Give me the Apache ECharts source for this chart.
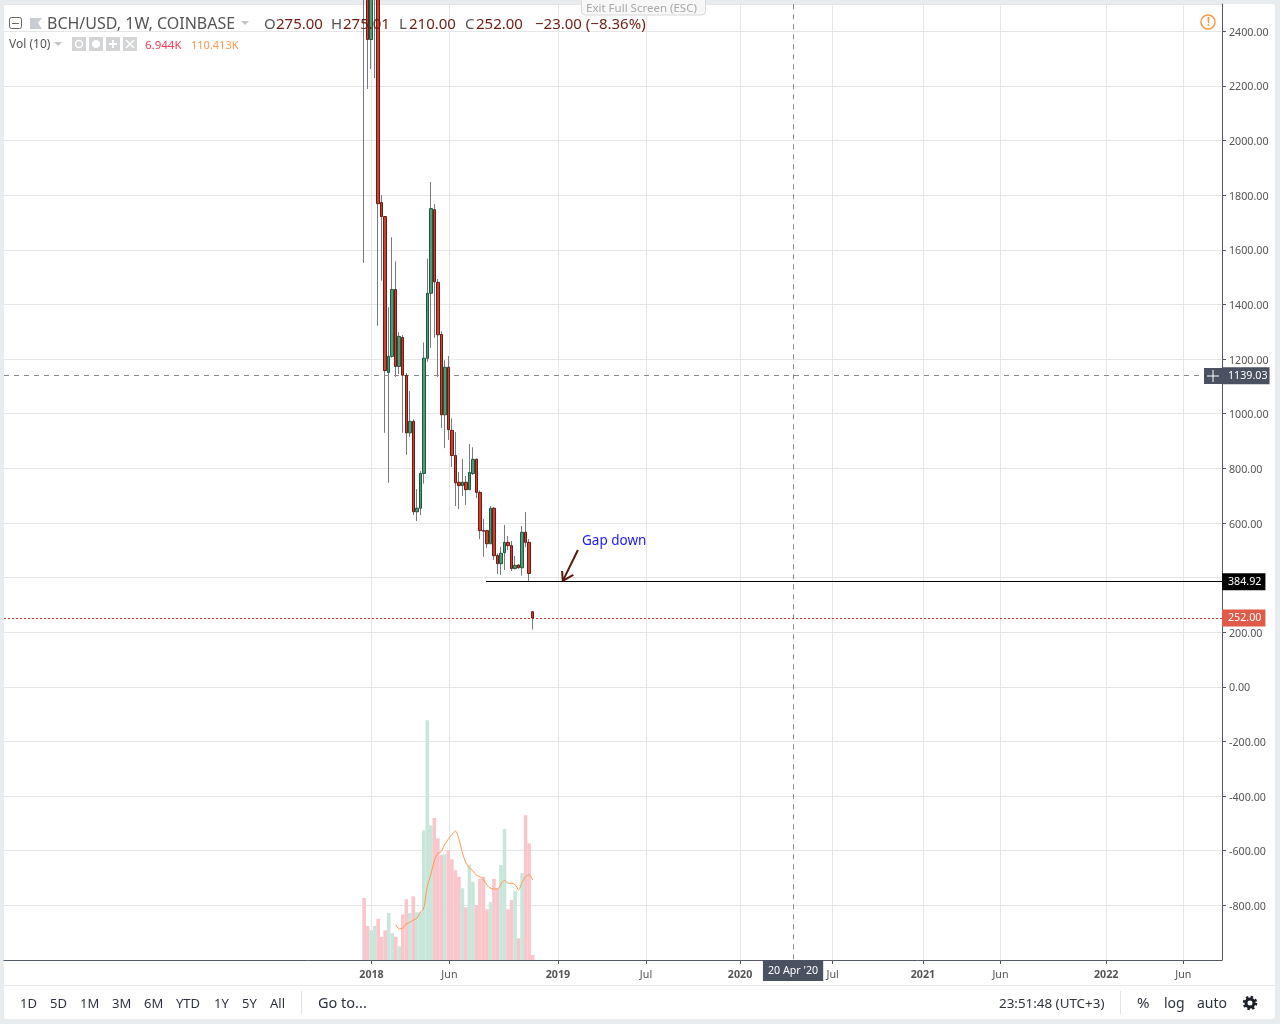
<!DOCTYPE html>
<html>
<head>
<meta charset="utf-8">
<title>BCH/USD</title>
<script src="https://cdn.jsdelivr.net/npm/echarts@6/dist/echarts.min.js"></script>
<style>
html, body { margin: 0; padding: 0; background: #e9ecef; }
#chart { width: 1280px; height: 1024px; }
</style>
</head>
<body>
<div id="chart"></div>
<script>
"use strict";

// weekly candles, first drawn bar is index 0: open, close, low, high
const candles = [
	[2760, 2640, 1552, 2900], [2640, 2370, 2189, 2700], [2370, 2550, 2262, 2620], [2550, 2700, 2229, 2800],
	[2700, 1769, 1322, 2760], [1773, 1722, 1487, 1800], [1722, 1158, 930, 1722], [1151, 1210, 747, 1390],
	[1210, 1455, 1205, 1646], [1455, 1173, 1135, 1558], [1173, 1283, 1145, 1298], [1279, 1141, 930, 1288],
	[1140, 930, 849, 1149], [930, 972, 915, 1083], [972, 641, 629, 979], [641, 654, 607, 724],
	[654, 781, 629, 790], [781, 1203, 744, 1261], [1203, 1441, 1190, 1568], [1441, 1751, 1241, 1848],
	[1747, 1483, 1278, 1767], [1481, 1289, 1135, 1493], [1290, 996, 948, 1302], [996, 1170, 874, 1196],
	[1170, 942, 904, 1211], [939, 847, 805, 983], [847, 747, 662, 933], [749, 737, 651, 787],
	[737, 749, 699, 834], [749, 722, 666, 772], [722, 785, 720, 889], [781, 833, 776, 877],
	[833, 712, 691, 836], [712, 572, 541, 719], [572, 570, 476, 615], [572, 524, 509, 574],
	[524, 654, 522, 662], [654, 480, 465, 658], [481, 451, 413, 489], [451, 489, 410, 512],
	[491, 529, 428, 593], [529, 517, 501, 552], [517, 433, 424, 534], [433, 445, 430, 479],
	[446, 436, 433, 450], [436, 566, 407, 589], [566, 529, 511, 640], [529, 415, 385, 541],
	[275, 252, 210, 275.01]
];
// volume in thousands
const volumes = [
	85.6, 47, 41, 47, 57, 32, 41, 65, 37, 32, 19, 63, 84, 65, 88, 66, 66, 179, 331, 186,
	196, 168, 145, 146, 152, 139, 124, 115, 99, 73, 131, 108, 76, 112, 115, 70, 80, 112, 99, 131,
	181, 70, 83, 95, 30, 120, 200, 161, 6.944
];
// 10 week average, nothing for the first nine bars
const volumeMa = [
	null, null, null, null, null, null, null, null, null,
	49, 43, 44, 50, 52, 55, 57.5, 66, 72, 102, 118, 137, 147, 150, 160, 167, 173, 178, 167, 148,
	134, 127, 123, 117, 115, 111, 103.5, 99, 98, 98, 105, 110, 106, 106, 104, 97, 107, 115, 118, 110.413
];
const xTickBars = [2.1, 24.3, 55.2, 80.3, 107.1, 133.5, 159.2, 181.3, 211.4, 233.4];
const xTickLabels = ["2018", "Jun", "2019", "Jul", "2020", "Jul", "2021", "Jun", "2022", "Jun"];

const crossBar = 122.2;
const crossPrice = 1139.03;
const crossDate = "20 Apr '20";
const lastPrice = 252;
const gapPrice = 384.92;
const gapStartBar = 34.7;

const FONT = '"Noto Sans", sans-serif';
const RED = "#d0402f", RED_EDGE = "#6b1a14", GREEN = "#4f9a78", GREEN_EDGE = "#1e5a3e", WICK = "#777b80";
const TAG_DARK = "#4a5160", GRID = "#e6e6e6", AXIS = "#555b66";

const xMin = -102.6, xMax = 244.4;

const candleRows = candles.map((c, i) => [i, c[0], c[1], c[2], c[3]]);
const bodyRows = candles.map((c, i) => [i, c[0], c[1], Math.min(c[0], c[1]), Math.max(c[0], c[1])]);
const volumeRows = volumes.map((v, i) => ({
	value: [i, v],
	itemStyle: { color: candles[i][1] >= candles[i][0] ? "#c9e6da" : "#f9c6cb" }
}));
const maRows = volumeMa.map((v, i) => [i, v]);

const tagLabel = (text, bg, extra) => Object.assign({
	show: true, formatter: text, position: "end", distance: 0, color: "#fff",
	backgroundColor: bg, fontFamily: FONT, fontSize: 10.7, padding: [3, 4, 2, 6], lineHeight: 12
}, extra);

const noLabel = { show: false };
const arrow = { color: "#5c1a10", width: 2, type: "solid" };
const segment = (a, b) => [{ coord: a, lineStyle: arrow, label: noLabel }, { coord: b }];

const overlays = [
	[
		{ coord: [xMin, crossPrice], lineStyle: { color: "#8a8a8a", type: [5, 5], width: 1 }, label: tagLabel(String(crossPrice), TAG_DARK, { padding: [3, 2, 2, 6] }) },
		{ coord: [xMax, crossPrice] }
	],
	[
		{ coord: [crossBar, 2499], lineStyle: { color: "#8a8a8a", type: [5, 5], width: 1 }, label: tagLabel(crossDate, TAG_DARK, { padding: [5, 5, 4, 5] }) },
		{ coord: [crossBar, -1000] }
	],
	[
		{ coord: [xMin, lastPrice], lineStyle: { color: "#c8402f", type: [2, 2], width: 1 }, label: tagLabel("252.00", "#df5a48") },
		{ coord: [xMax, lastPrice] }
	],
	[
		{ coord: [gapStartBar, gapPrice], lineStyle: { color: "#000", type: "solid", width: 1 }, label: tagLabel(String(gapPrice), "#000") },
		{ coord: [xMax, gapPrice] }
	],
	segment([60.9, 501], [56.6, 388]),
	segment([56.4, 424], [56.6, 388]),
	segment([59.6, 410], [56.6, 388])
];

const text = (x, y, t, fill, size, extra) => ({
	type: "text", x: x, y: y, silent: true, z: 20,
	style: Object.assign({ text: t, fill: fill, font: size + "px " + FONT, textVerticalAlign: "middle" }, extra)
});
const rect = (x, y, w, h, fill, extra) => ({
	type: "rect", silent: true, z: 19, shape: Object.assign({ x: x, y: y, width: w, height: h }, extra && extra.shape),
	style: Object.assign({ fill: fill }, extra && extra.style)
});
const line = (x1, y1, x2, y2, stroke, width) => ({
	type: "line", silent: true, z: 20, shape: { x1: x1, y1: y1, x2: x2, y2: y2 },
	style: { stroke: stroke, lineWidth: width || 1 }
});
const circle = (cx, cy, r, style) => ({
	type: "circle", silent: true, z: 20, shape: { cx: cx, cy: cy, r: r }, style: style
});
const caret = (x, y, fill) => ({
	type: "polygon", silent: true, z: 20, shape: { points: [[x, y], [x + 8, y], [x + 4, y + 4]] }, style: { fill: fill }
});

const HEAD = "#555", PRICE = "#6f1d14", FOOT = "#2e3340", ICON = "#d2d4d6";

const decor = [
	{ type: "rect", silent: true, z: -10, shape: { x: 4, y: 4, width: 1271, height: 1015, r: 3 }, style: { fill: "#fff" } },
	line(4, 985.5, 1275, 985.5, "#e6e8ec"),
	line(301.5, 991, 301.5, 1014, "#e0e3eb"),
	line(1120.5, 991, 1120.5, 1014, "#e0e3eb"),

	rect(581.5, -4, 124, 19, "#f7f7f7", { shape: { r: 4 }, style: { stroke: "#d8d8d8" } }),
	text(586, 9, "Exit Full Screen (ESC)", "#a9a9a9", 11.5),

	rect(9.5, 17.5, 12, 11, "#fff", { shape: { r: 2 }, style: { stroke: "#666" } }),
	line(12, 23.5, 19, 23.5, "#666"),
	{ type: "polygon", silent: true, z: 20, shape: { points: [[30, 18], [42, 18], [38, 23], [42, 29], [30, 29]] }, style: { fill: "#c9cdd3" } },
	text(47, 24, "BCH/USD, 1W, COINBASE", HEAD, 16),
	caret(241, 21, "#c4c4c4"),

	text(264, 25, "O", HEAD, 15),
	text(276, 25, "275.00", PRICE, 15),
	text(331, 25, "H", HEAD, 15),
	text(343, 25, "275.01", PRICE, 15),
	text(399, 25, "L", HEAD, 15),
	text(409, 25, "210.00", PRICE, 15),
	text(465, 25, "C", HEAD, 15),
	text(476, 25, "252.00", PRICE, 15),
	text(535, 25, "\u221223.00 (\u22128.36%)", PRICE, 15),

	text(9, 45, "Vol (10)", HEAD, 12),
	caret(54, 42, "#c4c4c4"),
	rect(72, 37, 14, 14, ICON), rect(89, 37, 14, 14, ICON), rect(106, 37, 14, 14, ICON), rect(123, 37, 14, 14, ICON),
	circle(79, 44, 3.5, { fill: "none", stroke: "#fff", lineWidth: 1.5 }),
	circle(96, 44, 3.5, { fill: "#fff", stroke: "#fff" }),
	line(109, 44, 117, 44, "#fff", 2), line(113, 40, 113, 48, "#fff", 2),
	line(126, 40, 134, 48, "#fff", 1.5), line(134, 40, 126, 48, "#fff", 1.5),
	text(145, 46, "6.944K", "#f23b57", 11.5),
	text(191, 46, "110.413K", "#ff9850", 11),

	circle(1208, 22, 7, { fill: "#fff", stroke: "#f59a42", lineWidth: 1.5 }),
	text(1206.6, 23, "!", "#f59a42", 11, { fontWeight: "bold" }),

	// plus button beside the crosshair price
	rect(1204, 368, 18, 16, TAG_DARK),
	line(1207, 376, 1219, 376, "#fff"), line(1213, 370, 1213, 382, "#fff"),

	text(582, 541, "Gap down", "#1a1aff", 13.5),

	text(20, 1004, "1D", FOOT, 13), text(50, 1004, "5D", FOOT, 13), text(80, 1004, "1M", FOOT, 13),
	text(112, 1004, "3M", FOOT, 13), text(144, 1004, "6M", FOOT, 13), text(176, 1004, "YTD", FOOT, 13),
	text(214, 1004, "1Y", FOOT, 13), text(242, 1004, "5Y", FOOT, 13), text(270, 1004, "All", FOOT, 13),
	text(318, 1004, "Go to...", FOOT, 14.5),
	text(999, 1004, "23:51:48 (UTC+3)", FOOT, 13.4),
	text(1137, 1004, "%", FOOT, 15), text(1164, 1004, "log", FOOT, 14), text(1197, 1004, "auto", FOOT, 14),
	circle(1250, 1003, 4, { fill: "none", stroke: "#1c1f26", lineWidth: 3 }),
	circle(1250, 1003, 6, { fill: "none", stroke: "#1c1f26", lineWidth: 2.5, lineDash: [2.4, 2.3] })
];

const chart = echarts.init(document.getElementById("chart"));
chart.setOption({
	animation: false,
	backgroundColor: "transparent",
	graphic: { elements: decor },
	grid: [
		{ left: 4, right: 58, top: 4, bottom: 64 },
		{ left: 4, right: 58, top: 4, bottom: 64 }
	],
	xAxis: [{
		type: "value", min: xMin, max: xMax, gridIndex: 0,
		axisLine: { onZero: false, lineStyle: { color: AXIS } },
		axisTick: { customValues: xTickBars, length: 4, lineStyle: { color: AXIS } },
		axisLabel: {
			customValues: xTickBars, margin: 9, showMinLabel: true, showMaxLabel: true,
			formatter: (v) => {
				const t = xTickLabels[xTickBars.indexOf(v)];
				return /^\d/.test(t) ? "{year|" + t + "}" : "{month|" + t + "}";
			},
			rich: {
				year: { fontFamily: FONT, fontSize: 10.7, fontWeight: "bold", color: "#555" },
				month: { fontFamily: FONT, fontSize: 10.7, color: "#555" }
			}
		},
		splitLine: { show: true, customValues: xTickBars, lineStyle: { color: GRID } }
	}, {
		type: "value", min: xMin, max: xMax, gridIndex: 1, show: false
	}],
	yAxis: [{
		type: "value", position: "right", min: -1000, max: 2500, interval: 200, gridIndex: 0,
		axisLine: { show: true, onZero: false, lineStyle: { color: AXIS } },
		axisTick: { show: true, length: 4, lineStyle: { color: AXIS } },
		axisLabel: {
			showMinLabel: false, showMaxLabel: false, margin: 7,
			formatter: (v) => "{p|" + v.toFixed(2) + "}",
			rich: { p: { fontFamily: FONT, fontSize: 10.7, color: "#555", padding: [3, 0, 0, 0] } }
		},
		splitLine: { show: true, lineStyle: { color: GRID } }
	}, {
		type: "value", min: 0, max: 1320, gridIndex: 1, show: false, splitLine: { show: false }
	}],
	series: [{
		type: "bar", name: "Vol", xAxisIndex: 1, yAxisIndex: 1, data: volumeRows, barWidth: 3.6, z: 2
	}, {
		type: "line", name: "Vol MA", xAxisIndex: 1, yAxisIndex: 1, data: maRows, showSymbol: false,
		smooth: 0.3, connectNulls: false, lineStyle: { color: "#ff9850", width: 1 }, z: 3
	}, {
		type: "candlestick", name: "wicks", xAxisIndex: 0, yAxisIndex: 0, data: candleRows,
		encode: { x: 0, y: [1, 2, 3, 4] }, barWidth: 1, z: 4,
		itemStyle: { color: WICK, color0: WICK, borderColor: WICK, borderColor0: WICK, borderWidth: 1 }
	}, {
		type: "candlestick", name: "BCH/USD", xAxisIndex: 0, yAxisIndex: 0, data: bodyRows,
		encode: { x: 0, y: [1, 2, 3, 4] }, barWidth: 3, z: 5,
		itemStyle: { color: GREEN, color0: RED, borderColor: GREEN_EDGE, borderColor0: RED_EDGE, borderWidth: 1 },
		markLine: { silent: true, symbol: "none", animation: false, precision: 2, data: overlays }
	}]
});
</script>
</body>
</html>
